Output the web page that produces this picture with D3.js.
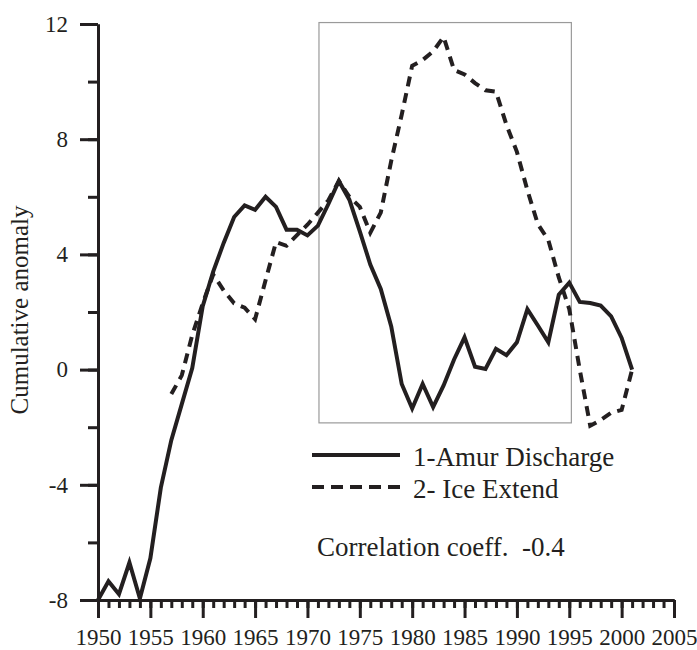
<!DOCTYPE html>
<html>
<head>
<meta charset="utf-8">
<script src="https://cdn.jsdelivr.net/npm/d3@7"></script>
<style>
  html, body { margin: 0; padding: 0; background: #fff; }
  svg { display: block; }
  svg text { font-family: 'Liberation Serif', 'Times New Roman', Times, serif; fill: #231f20; }
</style>
</head>
<body>
<svg id="chart" width="697" height="650"></svg>
<script>
// Cumulative anomaly of Amur discharge (1950-2001)
const amurYears = d3.range(1950, 2002);
const amurValues = [
  -8.0, -7.35, -7.8, -6.7, -7.95, -6.55, -4.1, -2.45, -1.2, 0.05,
  2.2, 3.4, 4.4, 5.3, 5.7, 5.55, 6.0, 5.65, 4.86, 4.86,
  4.66, 5.0, 5.75, 6.55, 5.9, 4.8, 3.65, 2.8, 1.5, -0.5,
  -1.35, -0.5, -1.3, -0.55, 0.35, 1.12, 0.1, 0.02, 0.72, 0.5,
  0.95, 2.1, 1.53, 0.95, 2.6, 3.02, 2.35, 2.31, 2.22, 1.85,
  1.1, 0.0
];

// Cumulative anomaly of ice extent (1957-2001)
const iceYears = d3.range(1957, 2002);
const iceValues = [
  -0.85, -0.2, 1.2, 2.3, 3.3, 2.75, 2.3, 2.15, 1.75, 3.1,
  4.43, 4.3, 4.67, 5.03, 5.45, 5.88, 6.55, 6.0, 5.65, 4.75,
  5.45, 7.25, 8.85, 10.55, 10.75, 11.05, 11.55, 10.4, 10.25, 9.95,
  9.7, 9.65, 8.5, 7.56, 6.23, 5.05, 4.5, 3.2, 2.1, 0.0,
  -1.95, -1.75, -1.5, -1.4, 0.0
];

// Axis ticks
const xMajorTicks = d3.range(1950, 2006, 5);
const xMinorTicks = d3.range(1950, 2006, 1);
const yMajorTicks = [-8, -4, 0, 4, 8, 12];
const yMinorTicks = d3.range(-8, 13, 2);

// Highlighted period (years) and value span of the framed box
const boxYears = [1971.1, 1995.2];
const boxValues = [-1.85, 12.05];

const seriesNames = ["1-Amur Discharge", "2- Ice Extend"];
const correlationText = "Correlation coeff.  -0.4";
const yTitle = "Cumulative anomaly";

const ink = "#231f20";
const serif = "'Liberation Serif', 'Times New Roman', Times, serif";
const svg = d3.select("#chart");

const x = d3.scaleLinear().domain([1950, 2005]).range([98, 674]);
const y = d3.scaleLinear().domain([-8, 12]).range([600, 24]);

// Framed box
svg.append("rect")
  .attr("x", x(boxYears[0]))
  .attr("y", y(boxValues[1]))
  .attr("width", x(boxYears[1]) - x(boxYears[0]))
  .attr("height", y(boxValues[0]) - y(boxValues[1]))
  .attr("fill", "none")
  .attr("stroke", "#9a9a9a")
  .attr("stroke-width", 1.2);

// Y axis: minor then major ticks
const yMinor = d3.axisLeft(y).tickValues(yMinorTicks).tickSize(10).tickSizeOuter(0).tickFormat("");
const yMajor = d3.axisLeft(y).tickValues(yMajorTicks).tickSize(18).tickSizeOuter(0).tickPadding(12)
  .tickFormat(d => String(d));
const gyMinor = svg.append("g").attr("transform", `translate(${x(1950)},0)`).call(yMinor);
const gyMajor = svg.append("g").attr("transform", `translate(${x(1950)},0)`).call(yMajor);
[gyMinor, gyMajor].forEach(g => {
  g.attr("font-family", serif);
  g.select(".domain").attr("stroke", ink).attr("stroke-width", 3);
  g.selectAll(".tick line").attr("stroke", ink).attr("stroke-width", 3);
});
gyMajor.selectAll(".tick text")
  .attr("font-size", 23)
  .attr("fill", ink);

// X axis: minor then major ticks
const xMinor = d3.axisBottom(x).tickValues(xMinorTicks).tickSize(8).tickSizeOuter(0).tickFormat("");
const xMajor = d3.axisBottom(x).tickValues(xMajorTicks).tickSize(18).tickSizeOuter(0).tickPadding(11)
  .tickFormat(d => String(d));
const gxMinor = svg.append("g").attr("transform", `translate(0,${y(-8)})`).call(xMinor);
const gxMajor = svg.append("g").attr("transform", `translate(0,${y(-8)})`).call(xMajor);
[gxMinor, gxMajor].forEach(g => {
  g.attr("font-family", serif);
  g.select(".domain").attr("stroke", ink).attr("stroke-width", 3);
  g.selectAll(".tick line").attr("stroke", ink).attr("stroke-width", 3);
});
gxMajor.selectAll(".tick text")
  .attr("font-size", 23)
  .attr("fill", ink);

// Y axis title
svg.append("text")
  .attr("transform", "translate(28,310) rotate(-90)")
  .attr("text-anchor", "middle")
  .attr("font-family", serif)
  .attr("font-size", 25)
  .text(yTitle);

// Series lines
const line = d3.line().x(d => x(d[0])).y(d => y(d[1]));
const amurPts = amurYears.map((yr, i) => [yr, amurValues[i]]);
const icePts = iceYears.map((yr, i) => [yr, iceValues[i]]);

svg.append("path")
  .datum(icePts)
  .attr("d", line)
  .attr("fill", "none")
  .attr("stroke", ink)
  .attr("stroke-width", 4)
  .attr("stroke-dasharray", "10,7");

svg.append("path")
  .datum(amurPts)
  .attr("d", line)
  .attr("fill", "none")
  .attr("stroke", ink)
  .attr("stroke-width", 4);

// Legend
const legend = svg.append("g").attr("font-family", serif);
const legendRows = [
  { name: seriesNames[0], dash: null, ly: 455, ty: 466 },
  { name: seriesNames[1], dash: "12,7", ly: 487, ty: 498 }
];
legendRows.forEach(r => {
  legend.append("line")
    .attr("x1", 312).attr("x2", 400)
    .attr("y1", r.ly).attr("y2", r.ly)
    .attr("stroke", ink)
    .attr("stroke-width", 4)
    .attr("stroke-dasharray", r.dash);
  legend.append("text")
    .attr("x", 413).attr("y", r.ty)
    .attr("font-size", 27)
    .text(r.name);
});

svg.append("text")
  .attr("x", 317).attr("y", 556)
  .attr("font-family", serif)
  .attr("font-size", 27)
  .attr("xml:space", "preserve")
  .style("white-space", "pre")
  .text(correlationText);
</script>
</body>
</html>
